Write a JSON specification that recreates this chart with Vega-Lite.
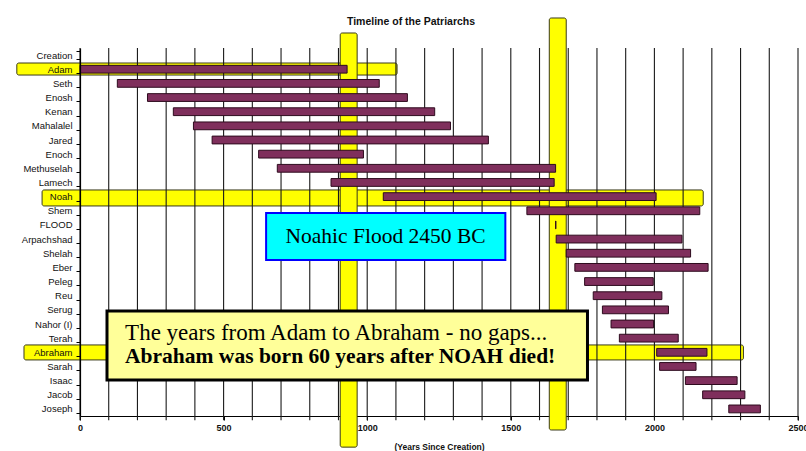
{
  "$schema": "https://vega.github.io/schema/vega-lite/v6.json",
  "width": 718,
  "height": 368,
  "autosize": {"type": "none"},
  "padding": {"left": 80, "top": 48, "right": 8, "bottom": 35},
  "background": "white",
  "config": {
    "view": {"stroke": null},
    "axisX": {
      "grid": false,
      "domainColor": "#000",
      "domainWidth": 1.2,
      "tickColor": "#000",
      "tickSize": 4,
      "labelFont": "Liberation Sans",
      "labelFontSize": 9,
      "labelFontWeight": "bold",
      "labelColor": "#111",
      "labelPadding": 3,
      "titleFont": "Liberation Sans",
      "titleFontSize": 8.5,
      "titleFontWeight": "bold",
      "titleColor": "#111",
      "titlePadding": 10,
      "zindex": 1
    }
  },
  "title": {
    "text": "Timeline of the Patriarchs",
    "font": "Liberation Sans",
    "fontSize": 10.5,
    "fontWeight": "bold",
    "color": "#111",
    "dx": -28,
    "offset": -10,
    "frame": "group"
  },
  "datasets": {
    "people": [
      {"name": "Creation", "start": null, "end": null},
      {"name": "Adam", "start": 0, "end": 930},
      {"name": "Seth", "start": 130, "end": 1042},
      {"name": "Enosh", "start": 235, "end": 1140},
      {"name": "Kenan", "start": 325, "end": 1235},
      {"name": "Mahalalel", "start": 395, "end": 1290},
      {"name": "Jared", "start": 460, "end": 1422},
      {"name": "Enoch", "start": 622, "end": 987},
      {"name": "Methuselah", "start": 687, "end": 1656},
      {"name": "Lamech", "start": 874, "end": 1651},
      {"name": "Noah", "start": 1056, "end": 2006},
      {"name": "Shem", "start": 1556, "end": 2158},
      {"name": "FLOOD", "start": 1656, "end": 1657},
      {"name": "Arpachshad", "start": 1658, "end": 2096},
      {"name": "Shelah", "start": 1693, "end": 2126},
      {"name": "Eber", "start": 1723, "end": 2187},
      {"name": "Peleg", "start": 1757, "end": 1996},
      {"name": "Reu", "start": 1787, "end": 2026},
      {"name": "Serug", "start": 1819, "end": 2049},
      {"name": "Nahor (I)", "start": 1849, "end": 1997},
      {"name": "Terah", "start": 1878, "end": 2083},
      {"name": "Abraham", "start": 2008, "end": 2183},
      {"name": "Sarah", "start": 2018, "end": 2145},
      {"name": "Isaac", "start": 2108, "end": 2288},
      {"name": "Jacob", "start": 2168, "end": 2315},
      {"name": "Joseph", "start": 2259, "end": 2369}
    ],
    "highlights": [
      {"what": "Adam row", "x1": -220, "x2": 1104, "r1": 1.06, "r2": 1.91},
      {"what": "Noah row", "x1": -132, "x2": 2170, "r1": 10.03, "r2": 11.16},
      {"what": "Abraham row", "x1": -195, "x2": 2310, "r1": 20.98, "r2": 22.04},
      {"what": "Adam death", "x1": 906, "x2": 965, "r1": -1.06, "r2": 28.2},
      {"what": "Flood", "x1": 1634, "x2": 1693, "r1": -2.12, "r2": 26.99}
    ],
    "years": [
      {"year": 0}, {"year": 100}, {"year": 200}, {"year": 300}, {"year": 400},
      {"year": 500}, {"year": 600}, {"year": 700}, {"year": 800}, {"year": 900},
      {"year": 1000}, {"year": 1100}, {"year": 1200}, {"year": 1300}, {"year": 1400},
      {"year": 1500}, {"year": 1600}, {"year": 1700}, {"year": 1800}, {"year": 1900},
      {"year": 2000}, {"year": 2100}, {"year": 2200}, {"year": 2300}, {"year": 2400},
      {"year": 2500}
    ],
    "boxes": [
      {"box": "flood", "x1": 648, "x2": 1481, "r1": 11.66, "r2": 14.98, "fill": "cyan"},
      {"box": "note", "x1": 94, "x2": 1767, "r1": 18.58, "r2": 23.46, "fill": "note"}
    ],
    "texts": [
      {"t": "Noahic Flood 2450 BC", "x": 1064, "r": 13.32, "kind": "flood"},
      {"t": "The years from Adam to Abraham - no gaps...", "x": 157, "r": 20.14, "kind": "line1"},
      {"t": "Abraham was born 60 years after NOAH died!", "x": 157, "r": 21.83, "kind": "line2"}
    ]
  },
  "resolve": {"scale": {"y": "independent"}, "axis": {"y": "independent"}},
  "layer": [
    {
      "data": {"name": "highlights"},
      "mark": {"type": "rect", "fill": "#FFFF00", "stroke": "#3a3a1a", "strokeWidth": 1, "cornerRadius": 2},
      "encoding": {
        "x": {"field": "x1", "type": "quantitative", "scale": {"domain": [0, 2500], "nice": false, "zero": false}, "axis": {
          "values": [0, 500, 1000, 1500, 2000, 2500],
          "format": "d",
          "labelOverlap": false,
          "labelFlush": false,
          "title": "(Years Since Creation)"
        }},
        "x2": {"field": "x2"},
        "y": {"field": "r1", "type": "quantitative", "scale": {"domain": [0, 26], "reverse": true, "nice": false, "zero": false}, "axis": null},
        "y2": {"field": "r2"}
      }
    },
    {
      "data": {"name": "years"},
      "mark": {"type": "rule", "color": "#1a1a1a", "strokeWidth": 1.1},
      "encoding": {
        "x": {"field": "year", "type": "quantitative"},
        "y": {"datum": 0, "type": "quantitative", "scale": {"domain": [0, 26], "reverse": true, "nice": false, "zero": false}, "axis": null},
        "y2": {"datum": 26.3}
      }
    },
    {
      "data": {"name": "people"},
      "mark": {"type": "bar", "fill": "#7f2f5c", "stroke": "#2e0b1e", "strokeWidth": 1},
      "encoding": {
        "y": {
          "field": "name", "type": "nominal",
          "sort": ["Creation","Adam","Seth","Enosh","Kenan","Mahalalel","Jared","Enoch","Methuselah","Lamech","Noah","Shem","FLOOD","Arpachshad","Shelah","Eber","Peleg","Reu","Serug","Nahor (I)","Terah","Abraham","Sarah","Isaac","Jacob","Joseph"],
          "scale": {"paddingInner": 0.45, "paddingOuter": 0.225},
          "axis": {
            "title": null,
            "tickBand": "extent",
            "tickSize": 4,
            "tickColor": "#000",
            "domainColor": "#000",
            "domainWidth": 1.2,
            "labelFont": "Liberation Sans",
            "labelFontSize": 9.5,
            "labelColor": "#111",
            "labelPadding": 4,
            "grid": false,
            "zindex": 1
          }
        },
        "x": {"field": "start", "type": "quantitative"},
        "x2": {"field": "end"}
      }
    },
    {
      "data": {"name": "boxes"},
      "mark": {"type": "rect"},
      "encoding": {
        "x": {"field": "x1", "type": "quantitative"},
        "x2": {"field": "x2"},
        "y": {"field": "r1", "type": "quantitative", "scale": {"domain": [0, 26], "reverse": true, "nice": false, "zero": false}, "axis": null},
        "y2": {"field": "r2"},
        "fill": {"field": "fill", "type": "nominal", "scale": {"domain": ["cyan", "note"], "range": ["#00FFFF", "#FFFF99"]}, "legend": null},
        "stroke": {"field": "fill", "type": "nominal", "scale": {"domain": ["cyan", "note"], "range": ["#0000FF", "#000000"]}, "legend": null},
        "strokeWidth": {"field": "fill", "type": "nominal", "scale": {"domain": ["cyan", "note"], "range": [2, 3]}, "legend": null}
      }
    },
    {
      "data": {"name": "texts"},
      "transform": [{"filter": "datum.kind === 'flood'"}],
      "mark": {"type": "text", "font": "Liberation Serif", "fontSize": 21.5, "color": "#000", "baseline": "middle", "align": "center"},
      "encoding": {
        "x": {"field": "x", "type": "quantitative"},
        "y": {"field": "r", "type": "quantitative", "scale": {"domain": [0, 26], "reverse": true, "nice": false, "zero": false}, "axis": null},
        "text": {"field": "t"}
      }
    },
    {
      "data": {"name": "texts"},
      "transform": [{"filter": "datum.kind === 'line1'"}],
      "mark": {"type": "text", "font": "Liberation Serif", "fontSize": 23, "color": "#000", "baseline": "middle", "align": "left"},
      "encoding": {
        "x": {"field": "x", "type": "quantitative"},
        "y": {"field": "r", "type": "quantitative", "scale": {"domain": [0, 26], "reverse": true, "nice": false, "zero": false}, "axis": null},
        "text": {"field": "t"}
      }
    },
    {
      "data": {"name": "texts"},
      "transform": [{"filter": "datum.kind === 'line2'"}],
      "mark": {"type": "text", "font": "Liberation Serif", "fontSize": 21.5, "fontWeight": "bold", "color": "#000", "baseline": "middle", "align": "left"},
      "encoding": {
        "x": {"field": "x", "type": "quantitative"},
        "y": {"field": "r", "type": "quantitative", "scale": {"domain": [0, 26], "reverse": true, "nice": false, "zero": false}, "axis": null},
        "text": {"field": "t"}
      }
    }
  ]
}
